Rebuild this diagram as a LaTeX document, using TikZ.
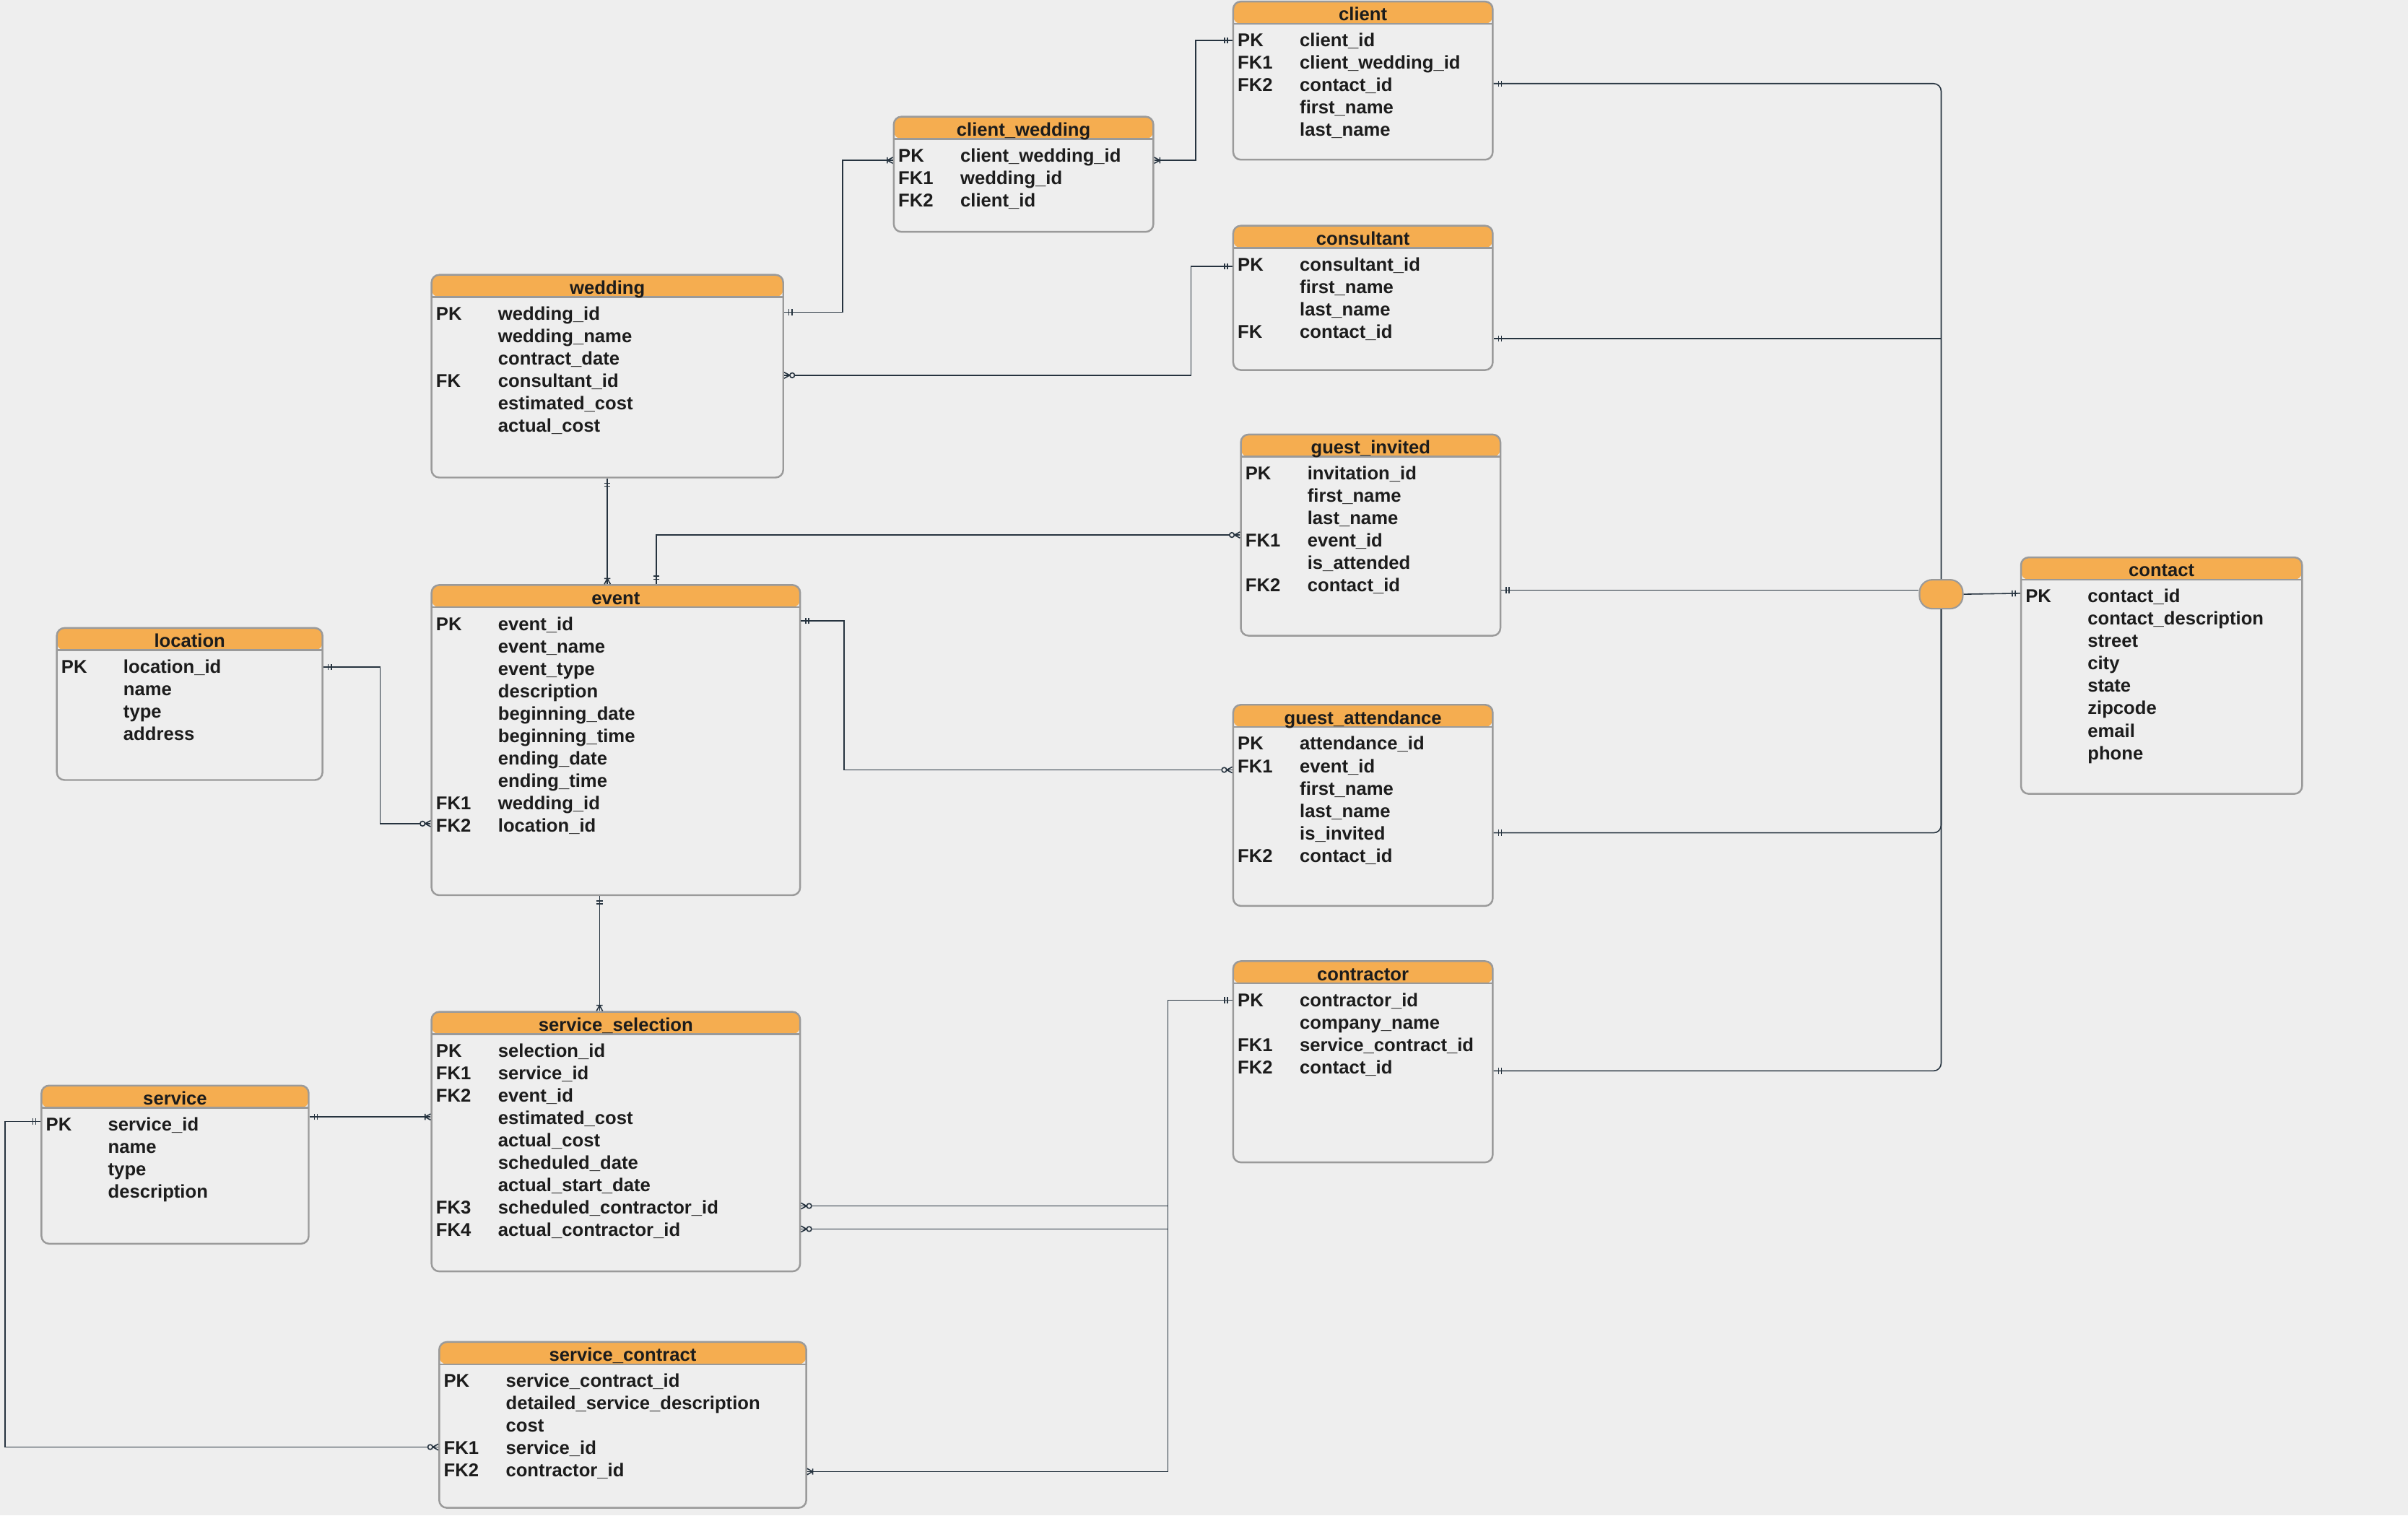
\documentclass[tikz,border=0pt]{standalone}
\usepackage{fontspec}
\setmainfont{Liberation Sans}
\usetikzlibrary{calc,fit,arrows.meta}

\definecolor{bgcol}{HTML}{EEEEEE}
\definecolor{hdrcol}{HTML}{F5AD50}
\definecolor{tblgray}{HTML}{9A9A9A}
\definecolor{linecol}{HTML}{26333F}
\definecolor{txtcol}{HTML}{1C1C1C}

% crow's foot ends
\pgfdeclarearrow{
  name = erone,
  setup code = {
    \pgfarrowssettipend{0pt}
    \pgfarrowssetlineend{0pt}
    \pgfarrowssetbackend{-3.6pt}
  },
  drawing code = {
    \pgfpathmoveto{\pgfqpoint{-1.9pt}{1.2pt}}
    \pgfpathlineto{\pgfqpoint{-1.9pt}{-1.2pt}}
    \pgfpathmoveto{\pgfqpoint{-3.1pt}{1.2pt}}
    \pgfpathlineto{\pgfqpoint{-3.1pt}{-1.2pt}}
    \pgfusepathqstroke
  }
}
\pgfdeclarearrow{
  name = ermany,
  setup code = {
    \pgfarrowssettipend{0pt}
    \pgfarrowssetlineend{0pt}
    \pgfarrowssetbackend{-2.4pt}
  },
  drawing code = {
    \pgfpathmoveto{\pgfqpoint{-2.2pt}{1.2pt}}
    \pgfpathlineto{\pgfqpoint{-2.2pt}{-1.2pt}}
    \pgfpathmoveto{\pgfqpoint{0pt}{1.2pt}}
    \pgfpathlineto{\pgfqpoint{-2.2pt}{0pt}}
    \pgfpathlineto{\pgfqpoint{0pt}{-1.2pt}}
    \pgfusepathqstroke
  }
}
\pgfdeclarearrow{
  name = erzmany,
  setup code = {
    \pgfarrowssettipend{0pt}
    \pgfarrowssetlineend{0pt}
    \pgfarrowssetbackend{-4.3pt}
  },
  drawing code = {
    \pgfpathmoveto{\pgfqpoint{0pt}{1.2pt}}
    \pgfpathlineto{\pgfqpoint{-2.2pt}{0pt}}
    \pgfpathlineto{\pgfqpoint{0pt}{-1.2pt}}
    \pgfusepathqstroke
    \pgfsetfillcolor{bgcol}
    \pgfpathcircle{\pgfqpoint{-3.2pt}{0pt}}{0.95pt}
    \pgfusepathqfillstroke
  }
}

\newcommand{\fkey}[1]{\makebox[0.86cm][l]{#1}}

\begin{document}
\begin{tikzpicture}
[x=0.02127cm, y=-0.02127cm, font=\fontsize{7.3}{8.83}\selectfont\bfseries]
\tikzstyle{entity}=[draw=tblgray, line width=0.7pt, fill=bgcol, rounded corners=3pt, inner sep=0pt,
  path picture={
    \fill[hdrcol] (path picture bounding box.north west) rectangle ([yshift=-0.308cm]path picture bounding box.north east);
    \draw[tblgray, line width=0.7pt] ([yshift=-0.308cm]path picture bounding box.north west) -- ([yshift=-0.308cm]path picture bounding box.north east);
  }]
\tikzstyle{tname}=[anchor=base, inner sep=0pt, text=txtcol]
\tikzstyle{fields}=[anchor=north west, align=left, inner sep=0pt, text=txtcol]
\tikzstyle{conn}=[draw=linecol, line width=0.45pt]
\tikzstyle{hub}=[draw=tblgray, line width=0.6pt, fill=hdrcol, rounded corners=5pt, minimum width=0.6cm, minimum height=0.4cm]

\fill[bgcol] (0,0) rectangle (1568,987);
\useasboundingbox (0,0) rectangle (1568,987);

% tables
\node[entity, fit={(803,1) (972,104)}] (cli) {};
\node[tname] (cli-t) at ($(cli.north)+(0,13.2)$) {client};
\node[fields] (cli-f) at ($(cli.north west)+(3.2,21)$) {\fkey{PK}client\_id\\ \fkey{FK1}client\_wedding\_id\\ \fkey{FK2}contact\_id\\ \fkey{}first\_name\\ \fkey{}last\_name};

\node[entity, fit={(582,76) (751,151)}] (cw) {};
\node[tname] (cw-t) at ($(cw.north)+(0,13.2)$) {client\_wedding};
\node[fields] (cw-f) at ($(cw.north west)+(3.2,21)$) {\fkey{PK}client\_wedding\_id\\ \fkey{FK1}wedding\_id\\ \fkey{FK2}client\_id};

\node[entity, fit={(803,147) (972,241)}] (cons) {};
\node[tname] (cons-t) at ($(cons.north)+(0,13.2)$) {consultant};
\node[fields] (cons-f) at ($(cons.north west)+(3.2,21)$) {\fkey{PK}consultant\_id\\ \fkey{}first\_name\\ \fkey{}last\_name\\ \fkey{FK}contact\_id};

\node[entity, fit={(281,179) (510,311)}] (wed) {};
\node[tname] (wed-t) at ($(wed.north)+(0,13.2)$) {wedding};
\node[fields] (wed-f) at ($(wed.north west)+(3.2,21)$) {\fkey{PK}wedding\_id\\ \fkey{}wedding\_name\\ \fkey{}contract\_date\\ \fkey{FK}consultant\_id\\ \fkey{}estimated\_cost\\ \fkey{}actual\_cost};

\node[entity, fit={(808,283) (977,414)}] (gi) {};
\node[tname] (gi-t) at ($(gi.north)+(0,13.2)$) {guest\_invited};
\node[fields] (gi-f) at ($(gi.north west)+(3.2,21)$) {\fkey{PK}invitation\_id\\ \fkey{}first\_name\\ \fkey{}last\_name\\ \fkey{FK1}event\_id\\ \fkey{}is\_attended\\ \fkey{FK2}contact\_id};

\node[entity, fit={(281,381) (521,583)}] (ev) {};
\node[tname] (ev-t) at ($(ev.north)+(0,13.2)$) {event};
\node[fields] (ev-f) at ($(ev.north west)+(3.2,21)$) {\fkey{PK}event\_id\\ \fkey{}event\_name\\ \fkey{}event\_type\\ \fkey{}description\\ \fkey{}beginning\_date\\ \fkey{}beginning\_time\\ \fkey{}ending\_date\\ \fkey{}ending\_time\\ \fkey{FK1}wedding\_id\\ \fkey{FK2}location\_id};

\node[entity, fit={(37,409) (210,508)}] (loc) {};
\node[tname] (loc-t) at ($(loc.north)+(0,13.2)$) {location};
\node[fields] (loc-f) at ($(loc.north west)+(3.2,21)$) {\fkey{PK}location\_id\\ \fkey{}name\\ \fkey{}type\\ \fkey{}address};

\node[entity, fit={(803,459) (972,590)}] (ga) {};
\node[tname] (ga-t) at ($(ga.north)+(0,13.2)$) {guest\_attendance};
\node[fields] (ga-f) at ($(ga.north west)+(3.2,21)$) {\fkey{PK}attendance\_id\\ \fkey{FK1}event\_id\\ \fkey{}first\_name\\ \fkey{}last\_name\\ \fkey{}is\_invited\\ \fkey{FK2}contact\_id};

\node[entity, fit={(1316,363) (1499,517)}] (cont) {};
\node[tname] (cont-t) at ($(cont.north)+(0,13.2)$) {contact};
\node[fields] (cont-f) at ($(cont.north west)+(3.2,21)$) {\fkey{PK}contact\_id\\ \fkey{}contact\_description\\ \fkey{}street\\ \fkey{}city\\ \fkey{}state\\ \fkey{}zipcode\\ \fkey{}email\\ \fkey{}phone};

\node[entity, fit={(803,626) (972,757)}] (ctr) {};
\node[tname] (ctr-t) at ($(ctr.north)+(0,13.2)$) {contractor};
\node[fields] (ctr-f) at ($(ctr.north west)+(3.2,21)$) {\fkey{PK}contractor\_id\\ \fkey{}company\_name\\ \fkey{FK1}service\_contract\_id\\ \fkey{FK2}contact\_id};

\node[entity, fit={(281,659) (521,828)}] (ss) {};
\node[tname] (ss-t) at ($(ss.north)+(0,13.2)$) {service\_selection};
\node[fields] (ss-f) at ($(ss.north west)+(3.2,21)$) {\fkey{PK}selection\_id\\ \fkey{FK1}service\_id\\ \fkey{FK2}event\_id\\ \fkey{}estimated\_cost\\ \fkey{}actual\_cost\\ \fkey{}scheduled\_date\\ \fkey{}actual\_start\_date\\ \fkey{FK3}scheduled\_contractor\_id\\ \fkey{FK4}actual\_contractor\_id};

\node[entity, fit={(27,707) (201,810)}] (srv) {};
\node[tname] (srv-t) at ($(srv.north)+(0,13.2)$) {service};
\node[fields] (srv-f) at ($(srv.north west)+(3.2,21)$) {\fkey{PK}service\_id\\ \fkey{}name\\ \fkey{}type\\ \fkey{}description};

\node[entity, fit={(286,874) (525,982)}] (sc) {};
\node[tname] (sc-t) at ($(sc.north)+(0,13.2)$) {service\_contract};
\node[fields] (sc-f) at ($(sc.north west)+(3.2,21)$) {\fkey{PK}service\_contract\_id\\ \fkey{}detailed\_service\_description\\ \fkey{}cost\\ \fkey{FK1}service\_id\\ \fkey{FK2}contractor\_id};

\node[hub] (hub) at (1264,387) {};

% attachment points
\coordinate (w1) at ($(wed.north east)+(0,25)$);
\coordinate (w2) at ($(wed.north east)+(0,66)$);
\coordinate (cw1) at ($(cw.north west)+(0,29)$);
\coordinate (cw2) at ($(cw.north east)+(0,29)$);
\coordinate (cl1) at ($(cli.north west)+(0,26)$);
\coordinate (cl2) at ($(cli.north east)+(0,54)$);
\coordinate (cs1) at ($(cons.north west)+(0,27)$);
\coordinate (cs2) at ($(cons.north east)+(0,74)$);
\coordinate (e1) at ($(ev.north west)+(147,0)$);
\coordinate (e2) at ($(ev.north east)+(0,24)$);
\coordinate (e3) at ($(ev.north west)+(0,156)$);
\coordinate (e4) at ($(ev.south west)+(110,0)$);
\coordinate (gi1) at ($(gi.north west)+(0,66)$);
\coordinate (gi2) at ($(gi.north east)+(0,102)$);
\coordinate (ga1) at ($(ga.north west)+(0,43)$);
\coordinate (ga2) at ($(ga.north east)+(0,84)$);
\coordinate (lo1) at ($(loc.north east)+(0,26)$);
\coordinate (sv1) at ($(srv.north east)+(0,21)$);
\coordinate (sv2) at ($(srv.north west)+(0,24)$);
\coordinate (sc1) at ($(sc.north west)+(0,69)$);
\coordinate (sc2) at ($(sc.north east)+(0,85)$);
\coordinate (ss3) at ($(ss.north east)+(0,127)$);
\coordinate (ss4) at ($(ss.north east)+(0,142)$);
\coordinate (ct1) at ($(ctr.north west)+(0,26)$);
\coordinate (ct2) at ($(ctr.north east)+(0,72)$);
\coordinate (co1) at ($(cont.north west)+(0,24)$);

% relationships
\draw[conn, erone-ermany] (w1) -- ++(38,0) |- (cw1);
\draw[conn, ermany-erone] (cw2) -- ++(27,0) |- (cl1);
\draw[conn, erzmany-erone] (w2) -- ++(265,0) |- (cs1);
\draw[conn, erone-ermany] (wed.south) -- (wed.south |- ev.north);
\draw[conn, erone-erzmany] (e1) |- (gi1);
\draw[conn, erone-erzmany] (e2) -- ++(28,0) |- (ga1);
\draw[conn, erone-erzmany] (lo1) -- ++(37,0) |- (e3);
\draw[conn, erone-ermany] (e4) -- (e4 |- ss.north);
\draw[conn, erone-ermany] (sv1) -- (sv1 -| ss.west);
\draw[conn, erone-erzmany] (sv2) -- ++(-23,0) |- (sc1);
\draw[conn, erone-ermany] (ct1) -- ++(-42,0) coordinate (kv) |- (sc2);
\draw[conn, -erzmany] (kv |- ss3) -- (ss3);
\draw[conn, -erzmany] (kv |- ss4) -- (ss4);

% contact links
\draw[conn, rounded corners=3pt, erone-] (cl2) -| (hub.north);
\draw[conn, erone-] (cs2) -- (cs2 -| hub);
\draw[conn, erone-] (gi2) -- (gi2 -| hub.west);
\draw[conn, rounded corners=3pt, erone-] (ga2) -| (hub.south);
\draw[conn, rounded corners=3pt, erone-] (ct2) -| (hub.south);
\draw[conn, -erone] (hub.east) -- (co1);
\end{tikzpicture}
\end{document}
